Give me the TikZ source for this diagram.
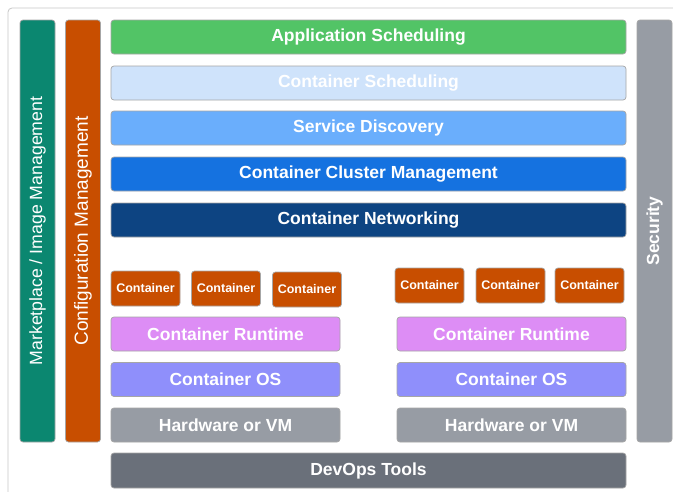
\documentclass[tikz,border=0pt]{standalone}
\usepackage{fontspec}
\setmainfont{Liberation Sans}
\usepackage{tikz}

\definecolor{mktcol}{HTML}{0B8770}
\definecolor{orgcol}{HTML}{C84E00}
\definecolor{appcol}{HTML}{52C466}
\definecolor{schcol}{HTML}{CFE3FB}
\definecolor{disccol}{HTML}{6AAEFC}
\definecolor{clucol}{HTML}{1572E0}
\definecolor{netcol}{HTML}{0D4482}
\definecolor{grycol}{HTML}{979CA4}
\definecolor{rtcol}{HTML}{DD8DF5}
\definecolor{oscol}{HTML}{8F8FFB}
\definecolor{devcol}{HTML}{6A707A}

\begin{document}
\begin{tikzpicture}[x=1pt, y=-1pt,
		box/.style={draw=black!35, line width=0.7pt, rounded corners=3pt, fill=#1, text=white, inner sep=0pt, font=\fontsize{17.5}{20}\selectfont\bfseries},
		wide/.style={box=#1, minimum width=515pt, minimum height=34pt},
		half/.style={box=#1, minimum width=229pt, minimum height=34pt},
		ctr/.style={box=orgcol, minimum width=69pt, minimum height=35pt, font=\fontsize{12.5}{14}\selectfont\bfseries},
		bar/.style={box=#1, rotate=90, minimum width=422pt, minimum height=35pt}]
			\useasboundingbox (0, 0) rectangle (673, 491);
			\clip (0, 0) rectangle (673, 491);
			\draw[black!22, line width=0.8pt, rounded corners=4pt, fill=white] (8, 8) rectangle (700, 520);
			% side bars
			\node[bar=mktcol, font=\fontsize{17.7}{20}\selectfont] (mkt) at (37.5, 231) {Marketplace / Image Management};
			\node[bar=orgcol, font=\fontsize{19}{21}\selectfont] (cfg) at (83, 231) {Configuration Management};
			\node[bar=grycol] (sec) at (654.5, 231) {Security};
			% shared layers
			\node[wide=appcol] (appsched) at (368.5, 37) {Application Scheduling};
			\node[wide=schcol] (ctsched) at (368.5, 83) {Container Scheduling};
			\node[wide=disccol] (disc) at (368.5, 128) {Service Discovery};
			\node[wide=clucol] (clmgmt) at (368.5, 174) {Container Cluster Management};
			\node[wide=netcol] (net) at (368.5, 220) {Container Networking};
			% left host
			\node[ctr] (cl1) at (145.5, 288.5) {Container};
			\node[ctr] (cl2) at (226, 288.5) {Container};
			\node[ctr] (cl3) at (307, 289.5) {Container};
			\node[half=rtcol] (rtl) at (225.5, 334) {Container Runtime};
			\node[half=oscol] (osl) at (225.5, 379.5) {Container OS};
			\node[half=grycol] (hwl) at (225.5, 425) {Hardware or VM};
			% right host
			\node[ctr] (cr1) at (429.5, 285.5) {Container};
			\node[ctr] (cr2) at (510.5, 285.5) {Container};
			\node[ctr] (cr3) at (589.5, 285.5) {Container};
			\node[half=rtcol] (rtr) at (511.5, 334) {Container Runtime};
			\node[half=oscol] (osr) at (511.5, 379.5) {Container OS};
			\node[half=grycol] (hwr) at (511.5, 425) {Hardware or VM};
			% bottom
			\node[wide=devcol, minimum height=35pt] (devops) at (368.5, 470.5) {DevOps Tools};
		\end{tikzpicture}
\end{document}
